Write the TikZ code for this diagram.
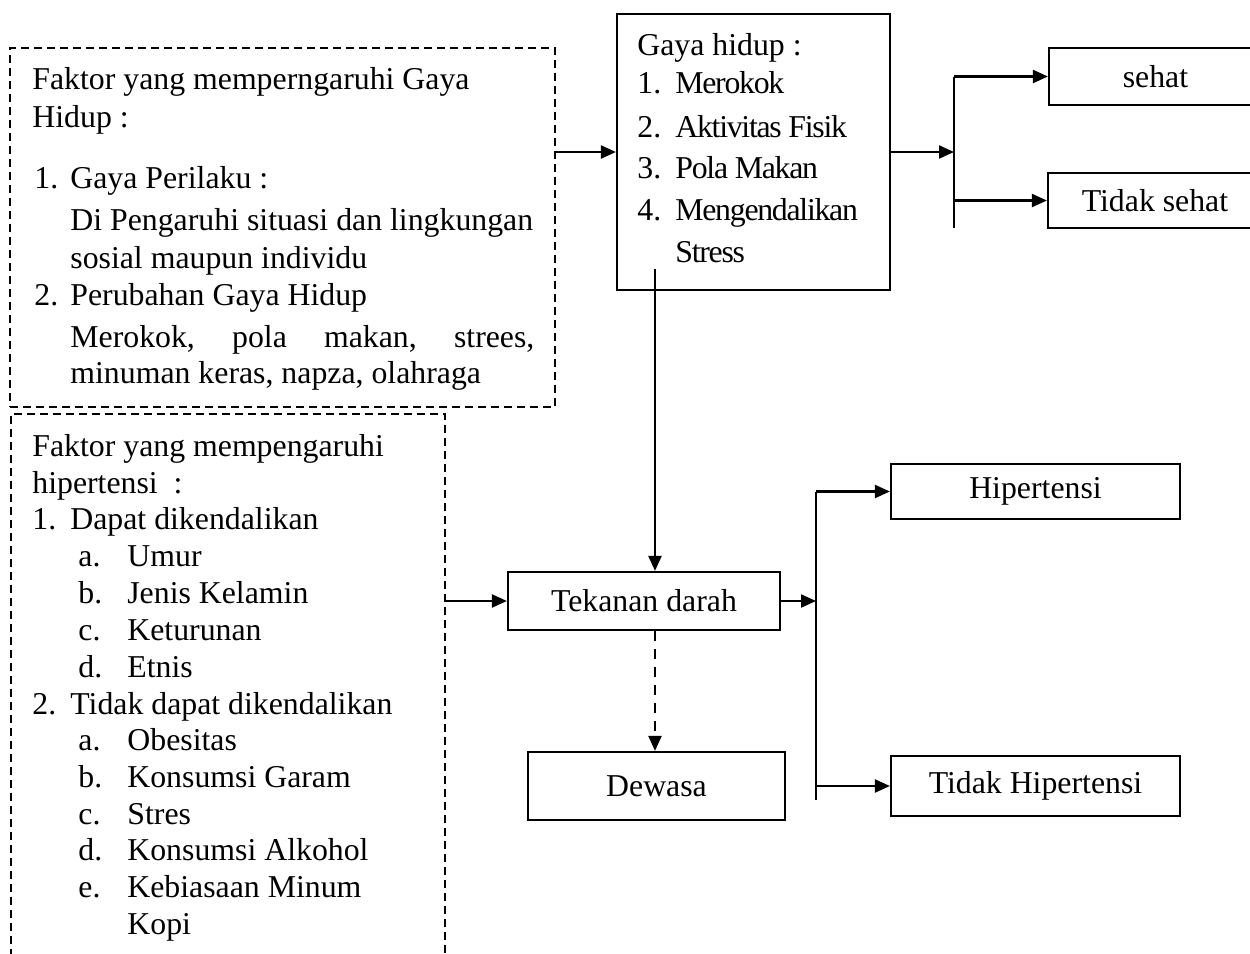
\documentclass[tikz,border=0pt]{standalone}
\usepackage{fontspec}
\setmainfont{Liberation Serif}
\newfontfamily\tightfont[LetterSpace=-4]{Liberation Serif}
\usetikzlibrary{arrows.meta}
\newcommand\diagfont{\fontsize{15.9}{19}\selectfont}

\begin{document}
\begin{tikzpicture}[x=0.5pt,y=-0.5pt]

\tikzset{
  box/.style={draw, line width=1.1pt, inner sep=0pt, font=\diagfont},
  dashbox/.style={draw, line width=0.75pt, dash pattern=on 4pt off 2.5pt, inner sep=0pt},
  line/.style={anchor=base west, inner sep=0pt, font=\diagfont},
  arr/.style={line width=1.1pt, -{Triangle[length=7.5pt,width=6.5pt]}},
}

  \useasboundingbox (0,0) rectangle (1250,954);
  \clip (0,0) rectangle (1250,954);

  % Faktor gaya hidup
  \node[dashbox, minimum width=272.5pt, minimum height=179.5pt] (faktorGH) at (282.5,227.5) {};
  \node[line] (a1) at (32,89)  {Faktor yang memperngaruhi Gaya};
  \node[line] (a2) at (32,127) {Hidup :};
  \node[line] (a3) at (34,188) {\makebox[18pt][l]{1.}Gaya Perilaku :};
  \node[line] (a4) at (70,230) {Di Pengaruhi situasi dan lingkungan};
  \node[line] (a5) at (70,268) {sosial maupun individu};
  \node[line] (a6) at (34,305) {\makebox[18pt][l]{2.}Perubahan Gaya Hidup};
  \node[line] (a7) at (70,347) {\hbox to 232pt{Merokok,\hfil pola\hfil makan,\hfil strees,}};
  \node[line] (a8) at (70,383) {minuman keras, napza, olahraga};

  % Faktor hipertensi
  \node[dashbox, minimum width=217pt, minimum height=280pt] (faktorHT) at (228,694) {};
  \node[line] (b1)  at (32,456.5) {Faktor yang mempengaruhi};
  \node[line] (b2)  at (32,493)   {hipertensi\ \ :};
  \node[line] (b3)  at (32,529)   {\makebox[19pt][l]{1.}Dapat dikendalikan};
  \node[line] (b4)  at (78,566)   {\makebox[24.5pt][l]{a.}Umur};
  \node[line] (b5)  at (78,603)   {\makebox[24.5pt][l]{b.}Jenis Kelamin};
  \node[line] (b6)  at (78,640)   {\makebox[24.5pt][l]{c.}Keturunan};
  \node[line] (b7)  at (78,677)   {\makebox[24.5pt][l]{d.}Etnis};
  \node[line] (b8)  at (32,714)   {\makebox[19pt][l]{2.}Tidak dapat dikendalikan};
  \node[line] (b9)  at (78,750)   {\makebox[24.5pt][l]{a.}Obesitas};
  \node[line] (b10) at (78,787)   {\makebox[24.5pt][l]{b.}Konsumsi Garam};
  \node[line] (b11) at (78,824)   {\makebox[24.5pt][l]{c.}Stres};
  \node[line] (b12) at (78,860)   {\makebox[24.5pt][l]{d.}Konsumsi Alkohol};
  \node[line] (b13) at (78,897)   {\makebox[24.5pt][l]{e.}Kebiasaan Minum};
  \node[line] (b14) at (127,934)  {Kopi};

  % Gaya hidup
  \node[box, minimum width=136.5pt, minimum height=138pt] (gayahidup) at (753.5,152) {};
  \node[line] (c1) at (637,55)  {Gaya hidup :};
  \node[line] (c2) at (637,93)  {\makebox[19pt][l]{1.}{\tightfont Merokok}};
  \node[line] (c3) at (637,137) {\makebox[19pt][l]{2.}{\tightfont Aktivitas Fisik}};
  \node[line] (c4) at (637,178) {\makebox[19pt][l]{3.}{\tightfont Pola Makan}};
  \node[line] (c5) at (637,220) {\makebox[19pt][l]{4.}{\tightfont Mengendalikan}};
  \node[line] (c6) at (675,262) {\tightfont Stress};

  % Hasil
  \node[box, minimum width=106.5pt, minimum height=28.5pt] (sehat) at (1155.5,76.5) {sehat};
  \node[box, minimum width=107pt, minimum height=27.5pt] (tdksehat) at (1155,200.5) {Tidak sehat};
  \node[box, minimum width=136pt, minimum height=29pt] (tekanan) at (644,601) {Tekanan darah};
  \node[box, minimum width=144.5pt, minimum height=27.5pt] (hipertensi) at (1035.5,491.5) {Hipertensi};
  \node[box, minimum width=144.5pt, minimum height=30pt] (tdkhipertensi) at (1035.5,786) {Tidak Hipertensi};
  \node[box, minimum width=128.5pt, minimum height=34pt] (dewasa) at (656.5,786) {Dewasa};

  % Edges
  \coordinate (jGH) at (954,152);
  \coordinate (jGHend) at (954,228);
  \coordinate (cGH) at (655,269);
  \coordinate (jTD) at (816,601);
  \coordinate (jTDend) at (816,800);

  \draw[arr] (faktorGH.east |- gayahidup.west) -- (gayahidup.west);
  \draw[arr] (gayahidup.east) -- (jGH);
  \draw[line width=1.1pt] (jGH |- sehat.west) -- (jGHend);
  \draw[arr] (jGH |- sehat.west) -- (sehat.west);
  \draw[arr] (jGH |- tdksehat.west) -- (tdksehat.west);

  \draw[arr] (cGH) -- (cGH |- tekanan.north);
  \draw[arr] (faktorHT.east |- tekanan.west) -- (tekanan.west);
  \draw[arr] (tekanan.east) -- (jTD);
  \draw[line width=1.1pt] (jTD |- hipertensi.west) -- (jTDend);
  \draw[arr] (jTD |- hipertensi.west) -- (hipertensi.west);
  \draw[arr] (jTD |- tdkhipertensi.west) -- (tdkhipertensi.west);
  \draw[arr, dash pattern=on 5pt off 4pt] (cGH |- tekanan.south) -- (cGH |- dewasa.north);
\end{tikzpicture}
\end{document}
